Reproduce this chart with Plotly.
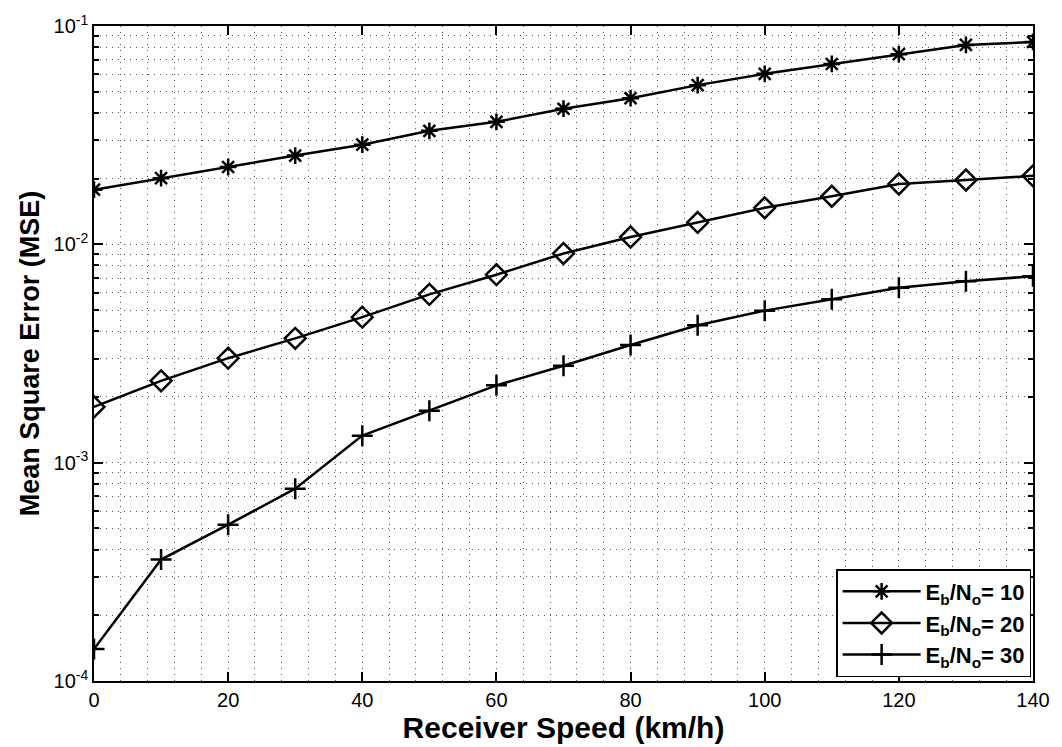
import plotly.graph_objects as go

# ---- data ----
speed = [0, 10, 20, 30, 40, 50, 60, 70, 80, 90, 100, 110, 120, 130, 140]
mse_eb10 = [0.0178, 0.0201, 0.0226, 0.0255, 0.0286, 0.0331, 0.0364, 0.0418, 0.0467,
            0.0536, 0.0604, 0.0670, 0.0743, 0.0819, 0.0845]
mse_eb20 = [0.00180, 0.00237, 0.00301, 0.00371, 0.00464, 0.00590, 0.00726, 0.00908,
            0.0108, 0.0126, 0.0147, 0.0166, 0.0189, 0.0197, 0.0206]
mse_eb30 = [0.000140, 0.000360, 0.000520, 0.000760, 0.00133, 0.00173, 0.00226, 0.00278,
            0.00346, 0.00426, 0.00497, 0.00560, 0.00633, 0.00678, 0.00714]
names = ["E<sub>b</sub>/N<sub>o</sub>= 10", "E<sub>b</sub>/N<sub>o</sub>= 20",
         "E<sub>b</sub>/N<sub>o</sub>= 30"]
y_tickvals = [1e-4, 1e-3, 1e-2, 1e-1]
y_ticktext = ["10<sup>-4</sup>", "10<sup>-3</sup>", "10<sup>-2</sup>", "10<sup>-1</sup>"]
x_tickvals = [0, 20, 40, 60, 80, 100, 120, 140]

FONT = "Liberation Sans, Arial, Helvetica, sans-serif"
GRID = dict(showgrid=True, griddash="1px,5px", gridcolor="#555", gridwidth=1)

fig = go.Figure()
series = [(mse_eb10, "asterisk-open", 14), (mse_eb20, "diamond-open", 16),
          (mse_eb30, "cross-thin-open", 15)]
for (vals, sym, sz), nm in zip(series, names):
    fig.add_trace(go.Scatter(
        x=speed, y=vals, mode="lines+markers", name="<b>" + nm + "</b>",
        line=dict(color="black", width=2.5),
        marker=dict(symbol=sym, size=sz, color="black",
                    line=dict(color="black", width=2.5)),
    ))

fig.update_layout(
    width=1062, height=747,
    margin=dict(l=94, r=29, t=23, b=56),
    paper_bgcolor="white", plot_bgcolor="white",
    font=dict(family=FONT, color="black", size=20),
    showlegend=True,
    legend=dict(x=0.998, y=0.006, xanchor="right", yanchor="bottom",
                bgcolor="white", bordercolor="black", borderwidth=1.5,
                font=dict(size=22, family=FONT, color="black"),
                itemwidth=78, tracegroupgap=0),
)
fig.update_xaxes(
    range=[0, 140], tickvals=x_tickvals, ticks="inside", ticklen=9,
    tickwidth=1.5, tickcolor="black",
    showline=True, linecolor="black", linewidth=1.5, mirror="allticks",
    zeroline=False, **GRID,
    minor=dict(dtick=4, tick0=0, showgrid=True, griddash="1px,5px",
               gridcolor="#555", gridwidth=1, ticks=""),
    title=dict(text="<b>Receiver Speed (km/h)</b>", font=dict(size=30), standoff=3),
    tickfont=dict(size=20),
)
fig.update_yaxes(
    type="log", range=[-4, -1], tickvals=y_tickvals, ticktext=y_ticktext,
    ticks="inside", ticklen=9, tickwidth=1.5, tickcolor="black",
    showline=True, linecolor="black", linewidth=1.5, mirror="allticks",
    zeroline=False, **GRID,
    minor=dict(dtick="D1", showgrid=True, griddash="1px,5px", gridcolor="#555",
               gridwidth=1, ticks="inside", ticklen=5, tickcolor="black"),
    title=dict(text="<b>Mean Square Error (MSE)</b>", font=dict(size=27), standoff=6),
    tickfont=dict(size=20),
)

fig.write_html("out.html")
